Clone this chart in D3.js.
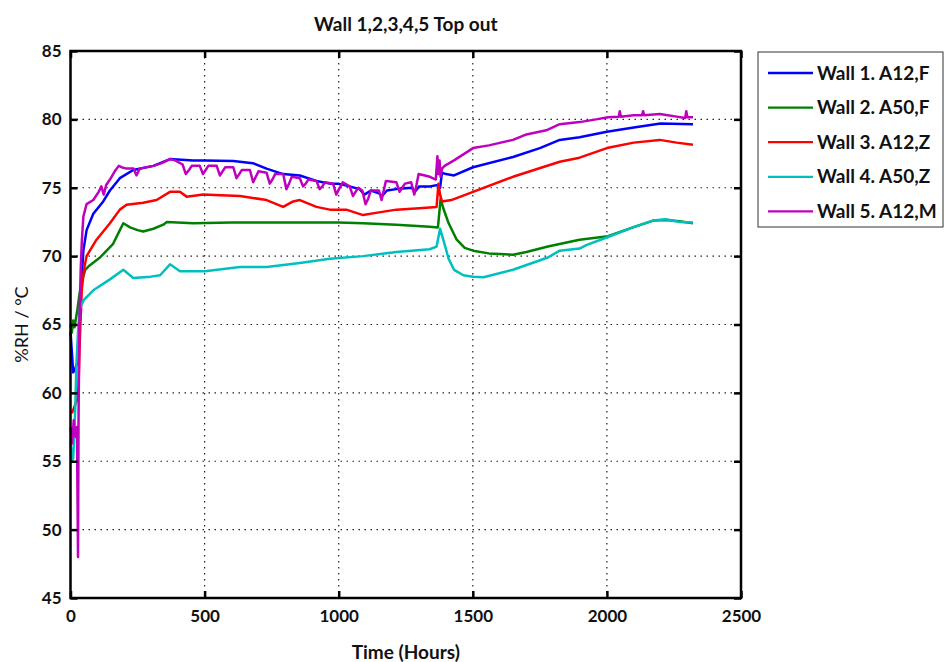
<!DOCTYPE html>
<html>
<head>
<meta charset="utf-8">
<script src="https://cdn.jsdelivr.net/npm/d3@7"></script>
<style>
  body { margin: 0; background: #fff; }
  svg { display: block; font-family: Lato, "Open Sans", sans-serif; }
</style>
</head>
<body>
<svg id="chart"></svg>
<script>
// values: [hours, %RH / °C]
const wall1 = [[0,64.5],[5,63],[10,61.5],[18,61.8],[25,62.2],[30,63],[35,66],[42,68.5],[48,70.4],[60,71.9],[85,73.1],[122,74.0],[147,74.8],[184,75.7],[234,76.3],[309,76.6],[371,77.1],[458,77.0],[500,77.0],[607,76.95],[680,76.8],[731,76.4],[793,76.0],[855,75.9],[917,75.5],[967,75.3],[998,75.3],[1040,75.1],[1078,74.9],[1096,74.5],[1120,74.8],[1150,74.6],[1162,74.4],[1180,74.8],[1215,74.9],[1272,75.0],[1284,74.7],[1300,75.1],[1340,75.1],[1370,75.2],[1378,75.0],[1385,76.1],[1400,76.0],[1430,75.9],[1501,76.5],[1650,77.25],[1750,77.9],[1824,78.5],[1898,78.7],[2000,79.1],[2100,79.4],[2200,79.7],[2321,79.65]];

const wall2 = [[0,65],[5,64.4],[10,65.3],[15,64.8],[25,66],[32,67],[40,68],[55,69],[70,69.3],[110,69.9],[159,70.9],[184,71.9],[197,72.4],[222,72.1],[250,71.9],[271,71.8],[309,72.0],[346,72.3],[359,72.5],[458,72.4],[600,72.45],[800,72.45],[1000,72.45],[1091,72.4],[1215,72.3],[1339,72.15],[1370,72.1],[1380,74.2],[1390,73.5],[1410,72.4],[1440,71.2],[1470,70.6],[1501,70.4],[1560,70.2],[1650,70.1],[1700,70.3],[1780,70.7],[1898,71.2],[2004,71.45],[2097,72.1],[2172,72.6],[2220,72.65],[2270,72.55],[2321,72.4]];

const wall3 = [[5,58.5],[15,59],[25,59.5],[30,60.5],[35,64],[42,67.5],[50,69.0],[60,70.0],[97,71.2],[147,72.4],[184,73.4],[209,73.75],[271,73.9],[321,74.1],[371,74.7],[408,74.7],[433,74.35],[495,74.5],[560,74.45],[632,74.4],[731,74.1],[793,73.6],[830,74.0],[855,74.1],[917,73.6],[967,73.4],[1028,73.4],[1091,73.0],[1150,73.2],[1215,73.4],[1300,73.5],[1365,73.6],[1372,75.3],[1378,74.5],[1385,74.0],[1420,74.1],[1501,74.7],[1650,75.8],[1824,76.9],[1898,77.2],[2000,77.9],[2100,78.3],[2197,78.5],[2260,78.3],[2321,78.15]];

const wall4 = [[0,56.5],[5,55],[10,55.2],[14,57],[18,59],[22,62],[28,64.5],[35,66.2],[50,66.8],[85,67.5],[147,68.3],[197,69.0],[234,68.4],[300,68.5],[334,68.6],[371,69.4],[408,68.9],[501,68.9],[632,69.2],[731,69.2],[855,69.5],[967,69.8],[1091,70.0],[1215,70.3],[1339,70.5],[1365,70.7],[1378,72.0],[1390,71.2],[1410,69.8],[1430,69.0],[1465,68.6],[1501,68.5],[1540,68.45],[1650,69.0],[1780,69.9],[1824,70.4],[1898,70.55],[1923,70.8],[2004,71.4],[2097,72.1],[2172,72.6],[2220,72.7],[2270,72.5],[2321,72.45]];

const wall5 = [[0,57.5],[6,56.3],[12,58],[18,56.8],[24,57.5],[28,48],[30,58],[33,65],[38,69],[42,71],[48,72.9],[60,73.8],[85,74.1],[105,74.7],[115,75.1],[124,74.5],[133,75.2],[147,75.6],[165,76.2],[180,76.6],[190,76.5],[209,76.4],[235,76.4],[246,75.9],[258,76.4],[309,76.6],[340,76.8],[371,77.1],[390,77.0],[418,76.7],[430,76.0],[442,76.3],[452,76.6],[482,76.6],[494,76.0],[504,76.3],[514,76.6],[545,76.6],[557,75.9],[567,76.2],[577,76.5],[607,76.5],[619,75.7],[629,76.0],[639,76.3],[669,76.3],[681,75.4],[691,75.8],[701,76.2],[731,76.1],[743,75.3],[753,75.6],[763,76.0],[793,76.0],[805,74.9],[815,75.3],[825,75.8],[855,75.7],[867,75.1],[877,75.3],[887,75.6],[917,75.5],[929,74.9],[939,75.1],[949,75.4],[979,75.3],[991,74.5],[1001,74.9],[1015,75.4],[1041,75.1],[1053,74.4],[1063,74.7],[1073,75.0],[1088,74.8],[1100,73.8],[1110,74.2],[1120,74.8],[1150,74.8],[1160,74.1],[1168,74.8],[1176,75.5],[1215,75.4],[1227,74.7],[1237,75.0],[1247,75.3],[1270,75.4],[1282,74.5],[1290,75.2],[1298,76.0],[1340,75.8],[1362,75.6],[1368,77.3],[1372,76.0],[1376,77.0],[1380,75.8],[1385,76.4],[1395,76.6],[1430,77.0],[1501,77.9],[1560,78.1],[1650,78.5],[1700,78.9],[1774,79.2],[1824,79.65],[1898,79.8],[1960,80.0],[2004,80.15],[2044,80.2],[2048,80.6],[2052,80.2],[2100,80.3],[2131,80.3],[2135,80.6],[2139,80.3],[2197,80.4],[2260,80.2],[2292,80.1],[2296,80.6],[2300,80.15],[2321,80.15]];

const seriesNames = ["Wall 1. A12,F", "Wall 2. A50,F", "Wall 3. A12,Z", "Wall 4. A50,Z", "Wall 5. A12,M"];
const seriesData = [wall1, wall2, wall3, wall4, wall5];
const seriesColors = ["#0000ff", "#008000", "#ff0000", "#00bfbf", "#bf00bf"];

const xTicks = [0, 500, 1000, 1500, 2000, 2500];
const yTicks = [45, 50, 55, 60, 65, 70, 75, 80, 85];

const width = 945, height = 662;
const margin = {top: 51, right: 204, bottom: 64, left: 70.5};
const innerW = width - margin.left - margin.right;
const innerH = height - margin.top - margin.bottom;

const svg = d3.select("#chart")
    .attr("width", width)
    .attr("height", height);

const chart = svg.append("g")
    .attr("transform", `translate(${margin.left}, ${margin.top})`);

const xscale = d3.scaleLinear().domain([0, 2500]).range([0, innerW]);
const yscale = d3.scaleLinear().domain([45, 85]).range([innerH, 0]);

// dotted grid
chart.append("g")
    .selectAll("line")
    .data(xTicks.slice(1, -1))
    .join("line")
    .attr("x1", d => xscale(d)).attr("x2", d => xscale(d))
    .attr("y1", 0).attr("y2", innerH)
    .attr("stroke", "#222").attr("stroke-width", 1.2)
    .attr("stroke-dasharray", "1.5,4.5");

chart.append("g")
    .selectAll("line")
    .data(yTicks.slice(1, -1))
    .join("line")
    .attr("x1", 0).attr("x2", innerW)
    .attr("y1", d => yscale(d)).attr("y2", d => yscale(d))
    .attr("stroke", "#222").attr("stroke-width", 1.2)
    .attr("stroke-dasharray", "1.5,4.5");

// lines
const line = d3.line()
    .x(d => xscale(d[0]))
    .y(d => yscale(d[1]));

chart.append("g")
    .selectAll("path")
    .data(seriesData)
    .join("path")
    .attr("d", d => line(d))
    .attr("fill", "none")
    .attr("stroke", (d, i) => seriesColors[i])
    .attr("stroke-width", 2.5)
    .attr("stroke-linejoin", "round");

// axes, ticks pointing inward on all four sides
const tickLen = 7;
const xaxis = d3.axisBottom(xscale).tickValues(xTicks).tickFormat(d3.format("d"))
    .tickSizeInner(-tickLen).tickSizeOuter(0).tickPadding(12);
const yaxis = d3.axisLeft(yscale).tickValues(yTicks).tickFormat(d3.format("d"))
    .tickSizeInner(-tickLen).tickSizeOuter(0).tickPadding(9);
const xaxisTop = d3.axisTop(xscale).tickValues(xTicks).tickSizeInner(-tickLen).tickSizeOuter(0).tickFormat("");
const yaxisRight = d3.axisRight(yscale).tickValues(yTicks).tickSizeInner(-tickLen).tickSizeOuter(0).tickFormat("");

const axes = [
    chart.append("g").attr("transform", `translate(0, ${innerH})`).call(xaxis),
    chart.append("g").call(yaxis),
    chart.append("g").call(xaxisTop),
    chart.append("g").attr("transform", `translate(${innerW}, 0)`).call(yaxisRight)
];
axes.forEach(g => {
    g.select(".domain").remove();
    g.selectAll(".tick line").attr("stroke", "#000").attr("stroke-width", 2.5);
    g.selectAll(".tick text")
        .attr("fill", "#111")
        .attr("font-family", "Lato, sans-serif")
        .attr("font-weight", "bold")
        .attr("font-size", 17);
});

chart.append("rect")
    .attr("x", 0).attr("y", 0)
    .attr("width", innerW).attr("height", innerH)
    .attr("fill", "none")
    .attr("stroke", "#000")
    .attr("stroke-width", 2.5);

// title and axis labels
svg.append("text")
    .attr("x", margin.left + innerW / 2)
    .attr("y", 31)
    .attr("text-anchor", "middle")
    .attr("font-weight", "bold")
    .attr("font-size", 19)
    .attr("fill", "#111")
    .text("Wall 1,2,3,4,5 Top out");

svg.append("text")
    .attr("x", margin.left + innerW / 2)
    .attr("y", 659)
    .attr("text-anchor", "middle")
    .attr("font-weight", "bold")
    .attr("font-size", 19)
    .attr("fill", "#111")
    .text("Time (Hours)");

svg.append("text")
    .attr("transform", `translate(28, ${margin.top + innerH / 2}) rotate(-90)`)
    .attr("text-anchor", "middle")
    .attr("font-size", 18)
    .attr("fill", "#111")
    .text("%RH / °C");

// legend
const legend = svg.append("g").attr("transform", "translate(758, 52)");
legend.append("rect")
    .attr("x", 0).attr("y", 0)
    .attr("width", 185).attr("height", 175)
    .attr("fill", "#fff")
    .attr("stroke", "#333")
    .attr("stroke-width", 1);

const items = legend.selectAll("g")
    .data(seriesNames)
    .join("g")
    .attr("transform", (d, i) => `translate(0, ${21 + i * 34.6})`);

items.append("line")
    .attr("x1", 10).attr("x2", 55)
    .attr("y1", 0).attr("y2", 0)
    .attr("stroke", (d, i) => seriesColors[i])
    .attr("stroke-width", 2.3);

items.append("text")
    .attr("x", 59)
    .attr("y", 6.5)
    .attr("font-weight", "bold")
    .attr("font-size", 19)
    .attr("fill", "#111")
    .text(d => d);
</script>
</body>
</html>
